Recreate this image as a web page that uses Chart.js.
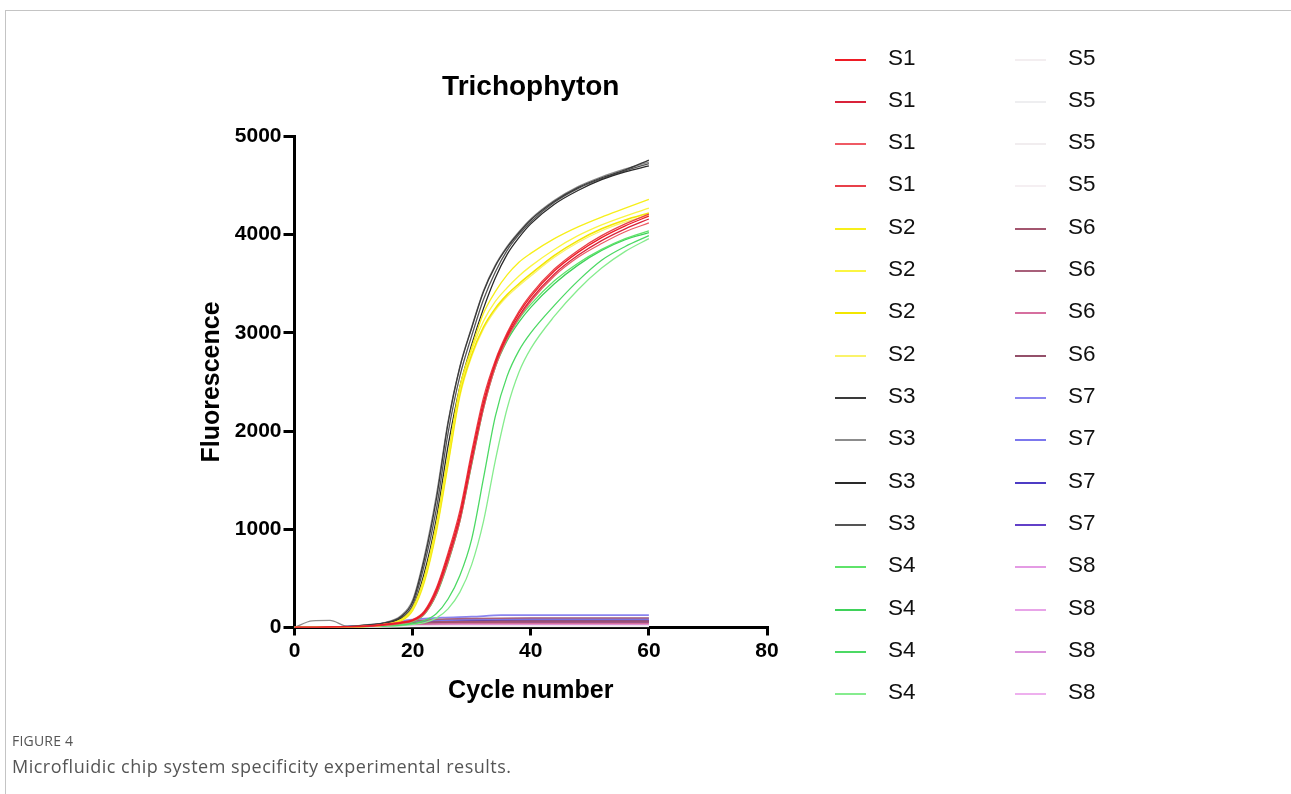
<!DOCTYPE html>
<html>
<head>
<meta charset="utf-8">
<title>Trichophyton</title>
<script src="https://cdn.jsdelivr.net/npm/chart.js@4.4.1/dist/chart.umd.min.js"></script>
<style>
    html, body { margin: 0; padding: 0; background: #fff; }
    body { width: 1291px; height: 794px; position: relative; overflow: hidden; }
    #frame {
        position: absolute; left: 5px; top: 10px; right: -2px; bottom: -2px;
        border-top: 1px solid #c4c4c4; border-left: 1px solid #c4c4c4;
    }
    #chartBox { position: absolute; left: 0; top: 0; width: 1291px; height: 794px; }
    #legend { position: absolute; left: 0; top: 0; }
    .lg-item { position: absolute; height: 30px; }
    .lg-line { position: absolute; top: 14px; width: 31px; height: 2px; }
    .lg-text {
        position: absolute; top: 0; line-height: 30px;
        font: 22.5px "Liberation Sans", Arial, sans-serif; color: #111;
    }
    #figLabel {
        position: absolute; left: 12px; top: 731px;
        font: 14px "Open Sans", sans-serif; color: #555; letter-spacing: 0.2px;
    }
    #figCaption {
        position: absolute; left: 12px; top: 754px;
        font: 18px "Open Sans", sans-serif; color: #555; letter-spacing: 0.5px;
    }
</style>
</head>
<body>
<div id="frame"></div>
<div id="chartBox"><canvas id="qpcrChart" width="1291" height="794"></canvas></div>
<div id="legend"></div>
<div id="figLabel">FIGURE 4</div>
<div id="figCaption">Microfluidic chip system specificity experimental results.</div>

<script>
const ampCycles = [0, 3, 6, 9, 12, 15, 18, 20, 22, 24, 26, 28, 30, 32, 34, 36, 38, 40, 44, 48, 52, 56, 60];
// cycles for the flat (negative) curves
const negCycles = [0, 5, 10, 15, 20, 25, 30, 35, 40, 45, 50, 55, 60];

// S1 - red
const s1a = [0, 0, 5, 8, 15, 30, 50, 75, 160, 380, 730, 1150, 1750, 2300, 2700, 2980, 3200, 3370, 3630, 3820, 3970, 4090, 4190];
const s1b = [0, 0, 4, 6, 12, 25, 45, 70, 150, 360, 700, 1110, 1700, 2260, 2680, 2960, 3170, 3340, 3600, 3790, 3940, 4060, 4160];
const s1c = [0, 0, 3, 6, 10, 22, 40, 65, 140, 340, 670, 1080, 1670, 2230, 2650, 2940, 3150, 3320, 3580, 3770, 3910, 4030, 4120];
const s1d = [0, 0, 5, 9, 16, 32, 55, 80, 170, 400, 760, 1190, 1790, 2340, 2720, 3000, 3220, 3390, 3650, 3840, 3990, 4110, 4210];
// S2 - yellow
const s2a = [0, 0, 4, 6, 12, 30, 80, 200, 520, 1050, 1750, 2450, 2850, 3200, 3420, 3590, 3720, 3810, 3960, 4080, 4180, 4270, 4360];
const s2b = [0, 0, 3, 6, 10, 28, 75, 190, 500, 1020, 1720, 2420, 2820, 3120, 3320, 3460, 3580, 3680, 3850, 3990, 4100, 4190, 4270];
const s2c = [0, 0, 3, 5, 10, 25, 70, 180, 480, 990, 1680, 2380, 2780, 3060, 3250, 3390, 3500, 3600, 3790, 3940, 4060, 4150, 4220];
const s2d = [0, 0, 2, 5, 9, 22, 65, 170, 460, 960, 1650, 2350, 2760, 3040, 3230, 3370, 3480, 3580, 3770, 3920, 4040, 4130, 4200];
// S3 - black / grey
const s3a = [0, 0, 5, 10, 25, 45, 110, 260, 700, 1300, 2080, 2650, 3050, 3420, 3680, 3870, 4020, 4150, 4340, 4480, 4580, 4660, 4760];
const s3b = [0, 68, 72, 12, 28, 48, 120, 280, 730, 1340, 2100, 2660, 3060, 3430, 3690, 3880, 4030, 4160, 4350, 4490, 4590, 4670, 4740];
const s3c = [0, 0, 4, 8, 20, 40, 90, 200, 560, 1100, 1850, 2450, 2880, 3250, 3560, 3800, 3970, 4110, 4310, 4450, 4560, 4640, 4700];
const s3d = [0, 0, 4, 9, 22, 42, 100, 230, 640, 1200, 1980, 2560, 2970, 3340, 3620, 3840, 4000, 4130, 4330, 4470, 4570, 4650, 4725];
// S4 - green
const s4a = [0, 0, 3, 5, 10, 20, 35, 60, 140, 340, 680, 1100, 1680, 2250, 2670, 2940, 3140, 3290, 3530, 3710, 3850, 3960, 4040];
const s4b = [0, 0, 3, 5, 10, 20, 35, 58, 135, 330, 660, 1080, 1660, 2230, 2650, 2920, 3110, 3260, 3500, 3690, 3840, 3950, 4020];
const s4c = [0, 0, 2, 4, 8, 15, 25, 40, 70, 140, 290, 530, 900, 1520, 2150, 2560, 2820, 3000, 3280, 3530, 3740, 3880, 3990];
const s4d = [0, 0, 2, 4, 6, 12, 20, 32, 50, 95, 190, 360, 640, 1080, 1700, 2230, 2600, 2840, 3170, 3440, 3660, 3830, 3960];
// S5 - almost white
const s5a = [0, 0, 3, 8, 12, 14, 15, 15, 15, 15, 15, 15, 15];
const s5b = [0, 0, 2, 6, 10, 12, 12, 12, 12, 12, 12, 12, 12];
const s5c = [0, 0, 3, 7, 11, 13, 14, 14, 14, 14, 14, 14, 14];
const s5d = [0, 0, 2, 5, 8, 10, 10, 10, 10, 10, 10, 10, 10];
// S6 - mauve
const s6a = [0, 0, 8, 25, 45, 58, 62, 64, 65, 65, 65, 65, 65];
const s6b = [0, 0, 10, 35, 65, 85, 92, 95, 96, 96, 96, 96, 96];
const s6c = [0, 0, 6, 18, 30, 38, 40, 42, 42, 42, 42, 42, 42];
const s6d = [0, 0, 7, 22, 38, 48, 52, 54, 55, 55, 55, 55, 55];
// S7 - blue / purple
const s7a = [0, 0, 10, 40, 80, 100, 110, 125, 127, 127, 127, 127, 127];
const s7b = [0, 0, 8, 32, 60, 75, 84, 88, 90, 90, 90, 90, 90];
const s7c = [0, 0, 6, 28, 50, 60, 66, 70, 70, 70, 70, 70, 70];
const s7d = [0, 0, 5, 25, 42, 52, 57, 60, 60, 60, 60, 60, 60];
// S8 - pink
const s8a = [0, 0, 4, 14, 24, 28, 30, 30, 30, 30, 30, 30, 30];
const s8b = [0, 0, 3, 12, 20, 24, 25, 25, 25, 25, 25, 25, 25];
const s8c = [0, 0, 3, 10, 16, 19, 20, 20, 20, 20, 20, 20, 20];
const s8d = [0, 0, 2, 8, 12, 14, 15, 15, 15, 15, 15, 15, 15];

const xTicks = [0, 20, 40, 60, 80];
const yTicks = [0, 1000, 2000, 3000, 4000, 5000];

// label, cycles, values, colour, width
const curves = [
    ['S1', ampCycles, s1a, '#ee1c25', 1.3], ['S1', ampCycles, s1b, '#d9233a', 1.3],
    ['S1', ampCycles, s1c, '#ef5a64', 1.3], ['S1', ampCycles, s1d, '#e8404a', 1.3],
    ['S2', ampCycles, s2a, '#f7ef1a', 1.3], ['S2', ampCycles, s2b, '#fbf542', 1.3],
    ['S2', ampCycles, s2c, '#f2e600', 1.6], ['S2', ampCycles, s2d, '#faf36a', 1.3],
    ['S3', ampCycles, s3a, '#3a3a3a', 1.3], ['S3', ampCycles, s3b, '#8c8c8c', 1.3],
    ['S3', ampCycles, s3c, '#2a2a2a', 1.3], ['S3', ampCycles, s3d, '#555555', 1.3],
    ['S4', ampCycles, s4a, '#5fe36a', 1.3], ['S4', ampCycles, s4b, '#3fd25a', 1.3],
    ['S4', ampCycles, s4c, '#4cd964', 1.3], ['S4', ampCycles, s4d, '#86ec8e', 1.3],
    ['S5', negCycles, s5a, '#f3eef0', 1.3], ['S5', negCycles, s5b, '#eeeef0', 1.3],
    ['S5', negCycles, s5c, '#f1edef', 1.3], ['S5', negCycles, s5d, '#f5eff2', 1.3],
    ['S6', negCycles, s6a, '#a3566f', 1.5], ['S6', negCycles, s6b, '#a8607a', 1.5],
    ['S6', negCycles, s6c, '#d66f9f', 1.5], ['S6', negCycles, s6d, '#94506a', 1.5],
    ['S7', negCycles, s7a, '#8a84f0', 1.8], ['S7', negCycles, s7b, '#7c78ee', 1.8],
    ['S7', negCycles, s7c, '#4d3cc4', 2.6], ['S7', negCycles, s7d, '#6240c8', 2.6],
    ['S8', negCycles, s8a, '#e49be4', 1.5], ['S8', negCycles, s8b, '#e8a4e8', 1.5],
    ['S8', negCycles, s8c, '#dc94dc', 1.5], ['S8', negCycles, s8d, '#eeb0ee', 1.5]
];

const datasets = curves.map(function (c) {
    return {
        label: c[0],
        data: c[2].map(function (v, i) { return { x: c[1][i], y: v }; }),
        borderColor: c[3],
        backgroundColor: c[3],
        borderWidth: c[4],
        pointRadius: 0,
        cubicInterpolationMode: 'monotone'
    };
});

Chart.defaults.font.family = '"Liberation Sans", Arial, sans-serif';
Chart.defaults.color = '#000';

const ctx = document.getElementById('qpcrChart').getContext('2d');
const chart = new Chart(ctx, {
    type: 'line',
    data: { datasets: datasets },
    options: {
        responsive: false,
        animation: false,
        layout: { padding: { top: 0, left: 190, right: 524, bottom: 86.5 } },
        plugins: {
            legend: { display: false },
            tooltip: { enabled: false },
            title: {
                display: true,
                text: 'Trichophyton',
                fullSize: false,
                color: '#000',
                font: { size: 28, weight: 'bold' },
                padding: { top: 70.5, bottom: 32.4 }
            }
        },
        scales: {
            x: {
                type: 'linear',
                min: 0,
                max: 80,
                afterFit: function (scale) { scale.height = 80; },
                afterBuildTicks: function (scale) {
                    scale.ticks = xTicks.map(function (v) { return { value: v }; });
                },
                border: { display: true, color: '#000', width: 3 },
                grid: { drawOnChartArea: false, drawTicks: true, tickLength: 8, lineWidth: 3, color: '#000' },
                ticks: {
                    padding: 3, color: '#000', maxRotation: 0,
                    font: { size: 21, weight: 'bold' },
                    callback: function (v) { return String(v); }
                },
                title: {
                    display: true,
                    text: 'Cycle number',
                    color: '#000',
                    font: { size: 25, weight: 'bold' },
                    padding: { top: 0, bottom: 1.5 }
                }
            },
            y: {
                min: 0,
                max: 5000,
                afterFit: function (scale) { scale.width = 104.5; },
                afterBuildTicks: function (scale) {
                    scale.ticks = yTicks.map(function (v) { return { value: v }; });
                },
                border: { display: true, color: '#000', width: 3 },
                grid: { drawOnChartArea: false, drawTicks: true, tickLength: 11, lineWidth: 3, color: '#000' },
                ticks: {
                    padding: 2, color: '#000',
                    font: { size: 21, weight: 'bold' },
                    callback: function (v) { return String(v); }
                },
                title: {
                    display: true,
                    text: 'Fluorescence',
                    color: '#000',
                    font: { size: 25, weight: 'bold' },
                    padding: { top: 7, bottom: 0 }
                }
            }
        }
    }
});

// two-column legend on the right, built from the chart's datasets
const legendBox = document.getElementById('legend');
chart.data.datasets.forEach(function (ds, i) {
    const col = Math.floor(i / 16);
    const row = i % 16;
    const item = document.createElement('div');
    item.className = 'lg-item';
    item.style.left = (835 + col * 180) + 'px';
    item.style.top = (44.5 + row * 42.33) + 'px';

    const line = document.createElement('div');
    line.className = 'lg-line';
    line.style.left = '0px';
    line.style.background = ds.borderColor;

    const text = document.createElement('div');
    text.className = 'lg-text';
    text.style.left = '53px';
    text.textContent = ds.label;

    item.appendChild(line);
    item.appendChild(text);
    legendBox.appendChild(item);
});
</script>
</body>
</html>
